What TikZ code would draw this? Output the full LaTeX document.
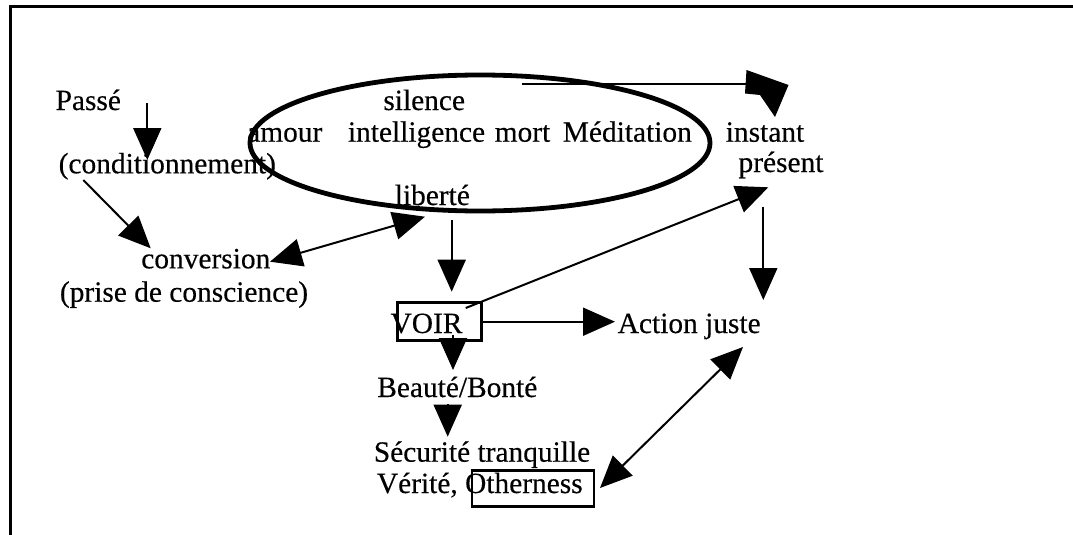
\documentclass[tikz,border=0pt]{standalone}
\usepackage{fontspec}
\setmainfont{Liberation Serif}
\newfontfamily\lblfont{Liberation Serif}[FakeBold=0.35]
\usetikzlibrary{arrows.meta,shapes.geometric}
\begin{document}
\begin{tikzpicture}[x=1pt,y=-1pt,
  lbl/.style={inner sep=0pt, anchor=base, font=\lblfont\fontsize{29.4}{34}\selectfont},
  conn/.style={line width=2pt, -{Triangle[length=32pt,width=28pt]}},
  dconn/.style={line width=2pt, {Triangle[length=32pt,width=28pt]}-{Triangle[length=32pt,width=28pt]}},
  boxed/.style={draw, line width=2.5pt, inner sep=0pt, rectangle}]
\fill[white] (0,0) rectangle (1073,535);
\useasboundingbox (0,0) rectangle (1073,535);
% frame (only top and left sides visible)
\coordinate (fbl) at (10,535);
\coordinate (ftl) at (10,7);
\coordinate (ftr) at (1073,7);
\draw[line width=3pt, line join=miter, line cap=butt] (fbl) -- (ftl) -- (ftr);
% ellipse
\node[draw, ellipse, line width=4.8pt, minimum width=460pt, minimum height=136pt, inner sep=0pt] (medit) at (480,143) {};
% boxes
\node[boxed, minimum width=84pt, minimum height=38pt] (voirbox) at (439.7,321.7) {};
\node[boxed, minimum width=122pt, minimum height=36pt] (othbox) at (533,488.7) {};
% texts
\node[lbl] (passe) at (88.3,110) {Passé};
\node[lbl] (cond) at (167.3,173.3) {(conditionnement)};
\node[lbl] (conv) at (205.8,268.3) {conversion};
\node[lbl] (prise) at (184,301.7) {(prise de conscience)};
\node[lbl] (silence) at (424.2,110) {silence};
\node[lbl, anchor=base west] (amour) at (247,141.7) {amour};
\node[lbl] (intel) at (416.5,141.7) {intelligence};
\node[lbl] (mort) at (522.5,141.7) {mort};
\node[lbl] (medtxt) at (627.3,141.7) {Méditation};
\node[lbl] (instant) at (765,141.7) {instant};
\node[lbl] (present) at (781,172) {présent};
\node[lbl] (liberte) at (432.3,205) {liberté};
\node[lbl] (voir) at (426.5,333) {VOIR};
\node[lbl] (action) at (689.2,333) {Action juste};
\node[lbl] (beaute) at (457.3,397) {Beauté/Bonté};
\node[lbl] (secu) at (482,461.7) {Sécurité tranquille};
\node[lbl] (verite) at (479.8,493) {Vérité, Otherness};
% connector end points
\coordinate (pa1) at (147.3,103.3);  \coordinate (pa2) at (147.3,160);
\coordinate (co1) at (83.3,180);     \coordinate (co2) at (150.7,248.3);
\coordinate (lc1) at (270,261.7);    \coordinate (lc2) at (425,216.7);
\coordinate (lv1) at (451.7,220);    \coordinate (lv2) at (451.7,291.7);
\coordinate (mi1) at (521.7,84);     \coordinate (mi2) at (752,84);
\coordinate (vp1) at (465.7,308);    \coordinate (vp2) at (768.3,187.3);
\coordinate (pr1) at (763.3,206.7);  \coordinate (pr2) at (763.3,300);
\coordinate (va1) at (483,321.7);    \coordinate (va2) at (615,321.7);
\coordinate (vb1) at (453,335);      \coordinate (vb2) at (453,370);
\coordinate (bs1) at (447.7,404);    \coordinate (bs2) at (447.7,436.7);
\coordinate (ao1) at (743,347);      \coordinate (ao2) at (600,488);
% connectors
\draw[conn] (pa1) -- (pa2);
\draw[conn] (co1) -- (co2);
\draw[dconn] (lc1) -- (lc2);
\draw[conn] (lv1) -- (lv2);
\draw[line width=2pt] (mi1) -- (mi2);
\fill (746.5,70) -- (788.5,85) -- (775,117) -- (760,95) -- (745,93.5) -- cycle;
\draw[conn] (vp1) -- (vp2);
\draw[conn] (pr1) -- (pr2);
\draw[conn] (va1) -- (va2);
\draw[conn] (vb1) -- (vb2);
\draw[conn] (bs1) -- (bs2);
\draw[dconn] (ao1) -- (ao2);
\end{tikzpicture}
\end{document}
